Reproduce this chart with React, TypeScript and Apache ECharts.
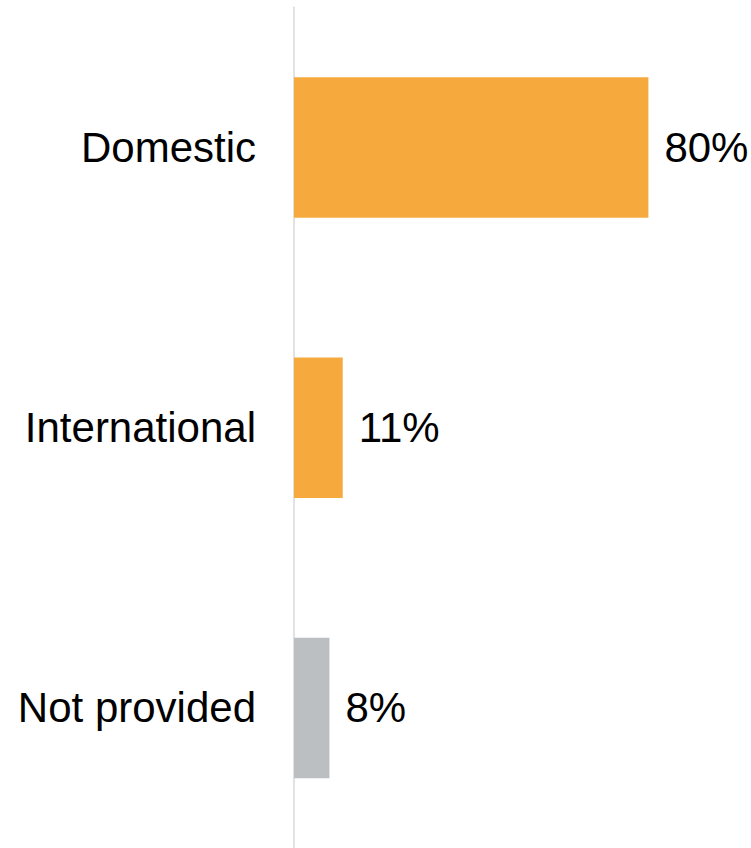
import React, { useEffect, useRef } from "react";
import * as echarts from "echarts";

const categories = ["Domestic", "International", "Not provided"];
const values = [80, 11, 8];
const barColors = ["#F6AA3E", "#F6AA3E", "#BCBFC2"];

export default function App() {
  const ref = useRef<HTMLDivElement>(null);
  useEffect(() => {
    if (!ref.current) return;
    const chart = echarts.init(ref.current, undefined, { renderer: "svg" });
    chart.setOption({
      animation: false,
      backgroundColor: "#ffffff",
      grid: { left: 294, right: 14, top: 7.3, height: 843, containLabel: false },
      xAxis: {
        type: "value",
        min: 0,
        max: 100,
        show: false,
      },
      yAxis: {
        type: "category",
        data: categories,
        inverse: true,
        axisLine: { show: true, lineStyle: { color: "#D9D9D9", width: 1.5 } },
        axisTick: { show: false },
        splitLine: { show: false },
        axisLabel: {
          color: "#000000",
          fontSize: 42,
          fontFamily: "Liberation Sans, Arial, sans-serif",
          margin: 38,
        },
      },
      series: [
        {
          type: "bar",
          barWidth: 140.5,
          data: values.map((v, i) => ({ value: v, itemStyle: { color: barColors[i] } })),
          label: {
            show: true,
            position: "right",
            distance: 16,
            formatter: "{c}%",
            color: "#000000",
            fontSize: 42,
            fontFamily: "Liberation Sans, Arial, sans-serif",
          },
        },
      ],
    });
    return () => chart.dispose();
  }, []);
  return (
    <div
      ref={ref}
      style={{ position: "fixed", left: 0, top: 0, width: 751, height: 848 }}
    />
  );
}
